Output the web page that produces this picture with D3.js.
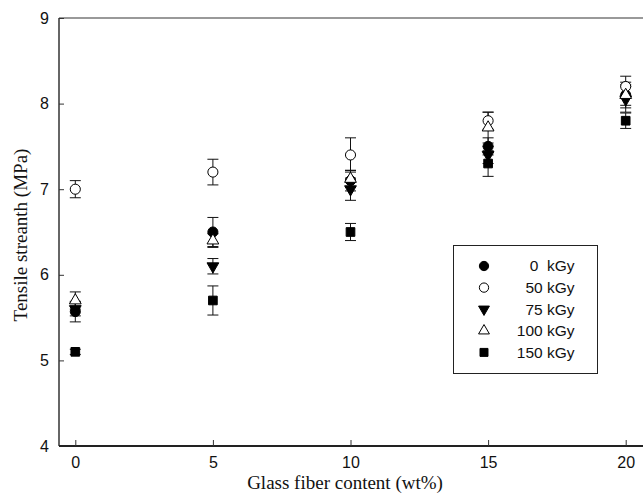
<!DOCTYPE html>
<html><head><meta charset="utf-8">
<script src="https://cdn.jsdelivr.net/npm/d3@7"></script>
<style>body{margin:0;background:#fff}</style>
</head><body><svg id="c" width="643" height="493"></svg>
<script>
const xValues = [0, 5, 10, 15, 20];
const seriesNames = ["0  kGy", "50 kGy", "75 kGy", "100 kGy", "150 kGy"];
const v0 = [5.57, 6.5, 7.1, 7.5, 8.1];
const e0 = [0.12, 0.17, 0.12, 0.1, 0.12];
const v50 = [7.0, 7.2, 7.4, 7.8, 8.2];
const e50 = [0.1, 0.15, 0.2, 0.1, 0.12];
const v75 = [5.6, 6.1, 7.0, 7.4, 8.05];
const e75 = [0.08, 0.09, 0.13, 0.1, 0.15];
const v100 = [5.7, 6.4, 7.12, 7.72, 8.1];
const e100 = [0.1, 0.08, 0.1, 0.18, 0.15];
const v150 = [5.1, 5.7, 6.5, 7.3, 7.8];
const e150 = [0.03, 0.17, 0.1, 0.15, 0.09];
const yTicks = [4, 5, 6, 7, 8, 9];
const xTicks = [0, 5, 10, 15, 20];

const series = [
  {name: seriesNames[0], v: v0, e: e0, sym: d3.symbolCircle, fill: "#000", size: 80},
  {name: seriesNames[1], v: v50, e: e50, sym: d3.symbolCircle, fill: "#fff", size: 80},
  {name: seriesNames[2], v: v75, e: e75, sym: d3.symbolTriangle, fill: "#000", size: 60, rot: 180},
  {name: seriesNames[3], v: v100, e: e100, sym: d3.symbolTriangle, fill: "#fff", size: 60},
  {name: seriesNames[4], v: v150, e: e150, sym: d3.symbolSquare, fill: "#000", size: 75}
];

const svg = d3.select("#c");
const L = 59, T = 18, B = 446;
const x = d3.scaleLinear().domain([0, 20]).range([75.3, 625.7]);
const y = d3.scaleLinear().domain([4, 9]).range([B, T]);

// top border
svg.append("line").attr("x1", L).attr("x2", 643).attr("y1", T).attr("y2", T)
  .attr("stroke", "#777").attr("stroke-width", 1.5);

// y axis
const ya = svg.append("g").attr("transform", `translate(${L},0)`)
  .call(d3.axisRight(y).tickValues(yTicks).tickSize(5).tickFormat(d3.format("d")));
ya.select(".domain").attr("stroke", "#333").attr("stroke-width", 1.5).attr("d", `M0,${T}V${B}`);
ya.selectAll(".tick line").attr("stroke", "#333");
ya.selectAll(".tick text").attr("x", -10).attr("text-anchor", "end")
  .attr("font-family", "Liberation Sans, Arial, sans-serif").attr("font-size", 16).attr("fill", "#111");

// x axis
const xa = svg.append("g").attr("transform", `translate(0,${B})`)
  .call(d3.axisTop(x).tickValues(xTicks).tickSize(6).tickFormat(d3.format("d")));
xa.select(".domain").attr("stroke", "#222").attr("stroke-width", 2).attr("d", `M${L},0H643`);
xa.selectAll(".tick line").attr("stroke", "#333");
xa.selectAll(".tick text").attr("y", 11).attr("dy", "0.71em")
  .attr("font-family", "Liberation Sans, Arial, sans-serif").attr("font-size", 16).attr("fill", "#111");

// titles
svg.append("text").attr("x", 345).attr("y", 489).attr("text-anchor", "middle")
  .attr("font-family", "Liberation Serif, Times New Roman, serif").attr("font-size", 19)
  .attr("fill", "#111").text("Glass fiber content (wt%)");
svg.append("text").attr("transform", "translate(27,235) rotate(-90)").attr("text-anchor", "middle")
  .attr("font-family", "Liberation Serif, Times New Roman, serif").attr("font-size", 19)
  .attr("fill", "#111").text("Tensile streanth (MPa)");

// error bars
const g = svg.append("g");
series.forEach(s => {
  s.v.forEach((val, i) => {
    const cx = x(xValues[i]);
    const y1 = y(val + s.e[i]), y2 = y(val - s.e[i]);
    g.append("line").attr("x1", cx).attr("x2", cx).attr("y1", y1).attr("y2", y2).attr("stroke", "#111").attr("stroke-width", 1);
    [y1, y2].forEach(yy => g.append("line").attr("x1", cx - 5.5).attr("x2", cx + 5.5).attr("y1", yy).attr("y2", yy).attr("stroke", "#111").attr("stroke-width", 1));
  });
});
// markers
series.forEach(s => {
  s.v.forEach((val, i) => {
    g.append("path").attr("d", d3.symbol(s.sym, s.size)())
      .attr("transform", `translate(${x(xValues[i])},${y(val)}) rotate(${s.rot || 0})`)
      .attr("fill", s.fill).attr("stroke", "#000").attr("stroke-width", 1);
  });
});

// legend
const lg = svg.append("g");
lg.append("rect").attr("x", 453.5).attr("y", 245.5).attr("width", 144).attr("height", 128)
  .attr("fill", "#fff").attr("stroke", "#222").attr("stroke-width", 1);
series.forEach((s, i) => {
  const yy = 266 + i * 21.6;
  lg.append("path").attr("d", d3.symbol(s.sym, s.size * 0.85)())
    .attr("transform", `translate(484,${yy}) rotate(${s.rot || 0})`)
    .attr("fill", s.fill).attr("stroke", "#000").attr("stroke-width", 1);
  lg.append("text").attr("x", 574.5).attr("y", yy).attr("dy", "0.35em").attr("text-anchor", "end")
    .attr("font-family", "Liberation Sans, Arial, sans-serif").attr("font-size", 15.5).attr("fill", "#111")
    .attr("xml:space", "preserve").style("white-space", "pre").text(s.name);
});
</script></body></html>
